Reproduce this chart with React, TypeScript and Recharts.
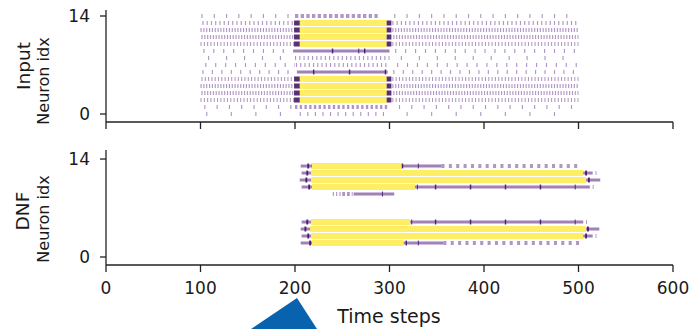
import React from 'react';
import { LineChart, Line, XAxis, YAxis } from 'recharts';

const timeTicks = [0, 100, 200, 300, 400, 500, 600];
const neuronTicks = [0, 14];

// spike trains read off the raster: [neuron, from, to, every (steps), mark width (steps), kind]
// kind: y = dense firing (yellow), l = continuous purple, p = purple spikes, d = dark spikes
type Train = [number, number, number, number, number, string];

const inputBefore: Train[] = [
  [14, 101, 200, 13, 1.2, 'p'],
  [13, 102, 199, 4.5, 1.2, 'p'],
  [12, 100, 199, 3, 1.2, 'p'],
  [11, 101, 199, 3, 1.2, 'p'],
  [10, 100, 199, 3.5, 1.1, 'p'],
  [9, 103, 197, 10.5, 1.2, 'p'],
  [8, 108, 200, 19, 1.2, 'p'],
  [7, 105, 200, 10.5, 1.2, 'p'],
  [6, 102, 200, 10, 1.2, 'p'],
  [5, 101, 199, 3.5, 1.1, 'p'],
  [4, 100, 199, 3, 1.2, 'p'],
  [3, 101, 199, 3, 1.2, 'p'],
  [2, 100, 199, 3.5, 1.1, 'p'],
  [1, 104, 200, 13, 1.2, 'p'],
  [0, 106, 200, 26, 1.2, 'p'],
];

const inputStimulus: Train[] = [
  [14, 200, 290, 6, 3.5, 'p'],
  [13, 205, 297, 1, 1, 'y'],
  [12, 205, 297, 1, 1, 'y'],
  [11, 205, 297, 1, 1, 'y'],
  [10, 205, 297, 1, 1, 'y'],
  [13, 199, 205, 1, 1, 'd'],
  [12, 199, 205, 1, 1, 'd'],
  [11, 199, 205, 1, 1, 'd'],
  [10, 199, 205, 1, 1, 'd'],
  [13, 297, 302, 1, 1, 'd'],
  [12, 297, 302, 1, 1, 'd'],
  [11, 297, 302, 1, 1, 'd'],
  [10, 297, 302, 1, 1, 'd'],
  [9, 198, 300, 1, 1, 'l'],
  [9, 239, 275, 34, 1.5, 'd'],
  [9, 267, 268, 1, 1.5, 'd'],
  [8, 200, 300, 4.5, 1.2, 'p'],
  [7, 201, 300, 4.5, 1.2, 'p'],
  [6, 202, 298, 1, 1, 'l'],
  [6, 219, 297, 38, 1.5, 'd'],
  [5, 205, 297, 1, 1, 'y'],
  [4, 205, 297, 1, 1, 'y'],
  [3, 205, 297, 1, 1, 'y'],
  [2, 205, 297, 1, 1, 'y'],
  [5, 199, 205, 1, 1, 'd'],
  [4, 199, 205, 1, 1, 'd'],
  [3, 199, 205, 1, 1, 'd'],
  [2, 199, 205, 1, 1, 'd'],
  [5, 297, 302, 1, 1, 'd'],
  [4, 297, 302, 1, 1, 'd'],
  [3, 297, 302, 1, 1, 'd'],
  [2, 297, 302, 1, 1, 'd'],
  [1, 200, 298, 5, 2.5, 'p'],
  [0, 205, 300, 8, 1.2, 'p'],
];

const inputAfter: Train[] = [
  [14, 305, 500, 13, 1.2, 'p'],
  [13, 303, 500, 4.5, 1.2, 'p'],
  [12, 303, 500, 3, 1.2, 'p'],
  [11, 304, 500, 3, 1.2, 'p'],
  [10, 303, 500, 3.5, 1.1, 'p'],
  [9, 306, 500, 10.5, 1.2, 'p'],
  [8, 312, 500, 19, 1.2, 'p'],
  [7, 308, 500, 10.5, 1.2, 'p'],
  [6, 304, 500, 10, 1.2, 'p'],
  [5, 303, 500, 3.5, 1.1, 'p'],
  [4, 303, 500, 3, 1.2, 'p'],
  [3, 304, 500, 3, 1.2, 'p'],
  [2, 303, 500, 3.5, 1.1, 'p'],
  [1, 310, 500, 13, 1.2, 'p'],
  [0, 318, 500, 26, 1.2, 'p'],
];

const dnfTop: Train[] = [
  [13, 206, 218, 1, 1, 'l'],
  [12, 207, 217, 1, 1, 'l'],
  [11, 205, 217, 1, 1, 'l'],
  [10, 207, 218, 1, 1, 'l'],
  [13, 217, 313, 1, 1, 'y'],
  [12, 217, 505, 1, 1, 'y'],
  [11, 217, 508, 1, 1, 'y'],
  [10, 218, 327, 1, 1, 'y'],
  [13, 213, 215, 1, 1, 'd'],
  [12, 212, 214, 1, 1, 'd'],
  [11, 211, 213, 1, 1, 'd'],
  [10, 214, 216, 1, 1, 'd'],
  [13, 313, 355, 1, 1, 'l'],
  [13, 313, 331, 17, 1.5, 'd'],
  [13, 355, 502, 7.8, 3.2, 'p'],
  [12, 505, 515, 1, 1, 'l'],
  [12, 507, 509, 1, 1, 'd'],
  [12, 518, 519, 1, 1, 'p'],
  [11, 508, 523, 1, 1, 'l'],
  [11, 510, 512, 1, 1, 'd'],
  [10, 327, 512, 1, 1, 'l'],
  [10, 329, 330, 1, 1.5, 'd'],
  [10, 348, 497, 37, 1.5, 'd'],
  [10, 515, 516, 1, 1, 'p'],
  [9, 240, 250, 3.5, 1.2, 'p'],
  [9, 250, 261, 5, 3, 'p'],
  [9, 262, 305, 1, 1, 'l'],
  [9, 292, 293, 1, 1.5, 'd'],
];

const dnfBottom: Train[] = [
  [5, 207, 217, 1, 1, 'l'],
  [4, 206, 216, 1, 1, 'l'],
  [3, 207, 217, 1, 1, 'l'],
  [2, 206, 218, 1, 1, 'l'],
  [5, 217, 322, 1, 1, 'y'],
  [4, 216, 508, 1, 1, 'y'],
  [3, 217, 505, 1, 1, 'y'],
  [2, 218, 315, 1, 1, 'y'],
  [5, 212, 214, 1, 1, 'd'],
  [4, 210, 212, 1, 1, 'd'],
  [3, 213, 215, 1, 1, 'd'],
  [2, 215, 217, 1, 1, 'd'],
  [5, 322, 505, 1, 1, 'l'],
  [5, 323, 324, 1, 1.5, 'd'],
  [5, 348, 497, 37, 1.5, 'd'],
  [5, 508, 509, 1, 1, 'p'],
  [4, 508, 522, 1, 1, 'l'],
  [4, 509, 511, 1, 1, 'd'],
  [3, 505, 515, 1, 1, 'l'],
  [3, 507, 509, 1, 1, 'd'],
  [3, 518, 519, 1, 1, 'p'],
  [2, 315, 357, 1, 1, 'l'],
  [2, 317, 331, 13, 1.5, 'd'],
  [2, 357, 503, 7.8, 3.2, 'p'],
];

const inputTrains = [...inputBefore, ...inputStimulus, ...inputAfter];
const dnfTrains = [...dnfTop, ...dnfBottom];

const STEP = 567 / 600; // px per time step inside the plot box
const kinds: Record<string, { color: string; opacity: number; width: number }> = {
  y: { color: '#fde725', opacity: 0.7, width: 6 },
  l: { color: '#7a4a9a', opacity: 0.7, width: 3 },
  p: { color: '#7d4f9e', opacity: 0.6, width: 4 },
  d: { color: '#3b0b5a', opacity: 0.85, width: 5 },
};
const drawOrder = ['y', 'l', 'p', 'd'];

const axisColor = '#222';
const font = 'DejaVu Sans';

function trainLine(tr: Train, i: number) {
  const [n, from, to, every, w, kind] = tr;
  const k = kinds[kind];
  const dash = every > 1 ? `${w * STEP} ${(every - w) * STEP}` : undefined;
  return (
    <Line
      key={i}
      data={[{ t: from, n }, { t: to, n }]}
      dataKey="n"
      type="linear"
      stroke={k.color}
      strokeOpacity={k.opacity}
      strokeWidth={k.width}
      strokeDasharray={dash}
      dot={false}
      activeDot={false}
      isAnimationActive={false}
    />
  );
}

function Raster({ trains, top, height, xHeight, yMax, labels }: any) {
  const sorted = drawOrder.flatMap((k) => trains.filter((t: Train) => t[5] === k));
  return (
    <div style={{ position: 'absolute', left: 0, top }}>
      <LineChart width={692} height={height} margin={{ top: 10, right: 19, bottom: 0, left: 0 }}>
        <XAxis
          dataKey="t"
          type="number"
          domain={[0, 600]}
          ticks={timeTicks}
          allowDataOverflow
          height={xHeight}
          stroke={axisColor}
          strokeWidth={1.3}
          tickSize={7}
          tickMargin={10}
          tick={{ fill: '#1a1a1a', fontSize: 17, fontFamily: font }}
          tickFormatter={(v) => (labels ? String(v) : '')}
        />
        <XAxis xAxisId="top" orientation="top" type="number" domain={[0, 600]} height={0} tick={false} tickLine={false} stroke={axisColor} strokeWidth={1.3} />
        <YAxis
          dataKey="n"
          type="number"
          domain={[-1.143, yMax]}
          ticks={neuronTicks}
          allowDataOverflow
          width={106}
          stroke={axisColor}
          strokeWidth={1.3}
          tickSize={6}
          tickMargin={10}
          tick={{ fill: '#1a1a1a', fontSize: 17, fontFamily: font }}
        />
        <YAxis yAxisId="right" orientation="right" type="number" domain={[0, 1]} width={0} tick={false} tickLine={false} stroke={axisColor} strokeWidth={1.3} />
        {sorted.map(trainLine)}
      </LineChart>
    </div>
  );
}

export default function App() {
  return (
    <div style={{ position: 'absolute', left: 0, top: 0, width: 692, height: 329, background: '#fff', overflow: 'hidden' }}>
      <Raster trains={inputTrains} top={0} height={140} xHeight={18} yMax={14.857} labels={false} />
      <Raster trains={dnfTrains} top={140} height={189} xHeight={64} yMax={15.29} labels={true} />
      <svg width={692} height={329} style={{ position: 'absolute', left: 0, top: 0, pointerEvents: 'none' }}>
        <g fontFamily={font} fill="#1a1a1a">
          <text x={23} y={66} fontSize={18.5} textAnchor="middle" dominantBaseline="central" transform="rotate(-90 23 66)">Input</text>
          <text x={43} y={81} fontSize={16} textAnchor="middle" dominantBaseline="central" transform="rotate(-90 43 81)">Neuron idx</text>
          <text x={22} y={211} fontSize={18.5} textAnchor="middle" dominantBaseline="central" transform="rotate(-90 22 211)">DNF</text>
          <text x={43} y={219} fontSize={16} textAnchor="middle" dominantBaseline="central" transform="rotate(-90 43 219)">Neuron idx</text>
          <text x={389} y={323} fontSize={19} textAnchor="middle">Time steps</text>
        </g>
        <polygon points="297,298 251,329 317,329" fill="#0862ae" />
      </svg>
    </div>
  );
}
